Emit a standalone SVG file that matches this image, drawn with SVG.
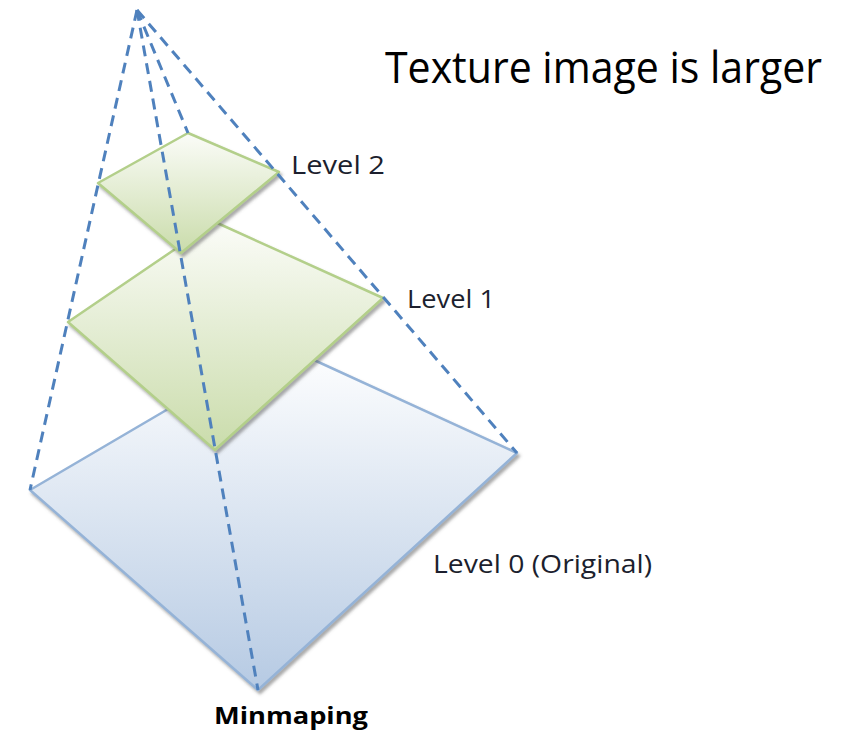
<svg xmlns="http://www.w3.org/2000/svg" width="844" height="734" viewBox="0 0 844 734">
  <defs>
    <linearGradient id="gGreen" x1="0" y1="0" x2="0" y2="1">
      <stop offset="0" stop-color="#fbfcf8"/>
      <stop offset="1" stop-color="#cadcab"/>
    </linearGradient>
    <linearGradient id="gBlue" x1="0" y1="0" x2="0" y2="1">
      <stop offset="0" stop-color="#ffffff"/>
      <stop offset="1" stop-color="#b6cae3"/>
    </linearGradient>
    <filter id="shadow" x="-10%" y="-10%" width="130%" height="130%">
      <feDropShadow dx="2" dy="3" stdDeviation="1.5" flood-color="#555" flood-opacity="0.5"/>
    </filter>
  </defs>
  <style>
    .plate-g { fill: url(#gGreen); stroke: #b3cf8a; stroke-width: 2.5; stroke-linejoin: round; filter: url(#shadow); }
    .plate-b { fill: url(#gBlue); stroke: #95b3d7; stroke-width: 2.5; stroke-linejoin: round; filter: url(#shadow); }
    .dash { fill: none; stroke: #4f81bd; stroke-width: 3; stroke-dasharray: 11 7; }
    .lbl { font-family: "Open Sans", "Noto Sans", sans-serif; fill: #1c1f2e; }
    .title { font-family: "Open Sans", "Noto Sans", sans-serif; fill: #000000; }
  </style>

  <rect width="844" height="734" fill="#ffffff"/>

  <!-- pyramid levels, largest first -->
  <g id="level0">
    <polygon class="plate-b" points="30,490 279,344 517,453 258,690"/>
  </g>
  <g id="level1">
    <polygon class="plate-g" points="68,322 215,222 383,298 215,450"/>
  </g>
  <g id="level2">
    <polygon class="plate-g" points="98,183 188,133 279,172 181,253"/>
  </g>

  <!-- dashed edges from the apex -->
  <g id="connectors">
    <line class="dash" x1="137" y1="10" x2="30" y2="490"/>
    <line class="dash" x1="137" y1="10" x2="258" y2="690"/>
    <line class="dash" x1="137" y1="10" x2="517" y2="453"/>
    <line class="dash" x1="137" y1="10" x2="188" y2="133"/>
  </g>

  <!-- labels -->
  <g id="labels">
    <text class="title" x="385" y="83" font-size="43" textLength="437" lengthAdjust="spacingAndGlyphs">Texture image is larger</text>
    <text class="lbl" x="291" y="174" font-size="25" textLength="94" lengthAdjust="spacingAndGlyphs">Level 2</text>
    <text class="lbl" x="407" y="308" font-size="25" textLength="88" lengthAdjust="spacingAndGlyphs">Level 1</text>
    <text class="lbl" x="433" y="573" font-size="25" textLength="219" lengthAdjust="spacingAndGlyphs">Level 0 (Original)</text>
    <text class="lbl" x="214" y="724" font-size="24" font-weight="bold" fill="#000" style="fill:#000" textLength="154" lengthAdjust="spacingAndGlyphs">Minmaping</text>
  </g>
</svg>
